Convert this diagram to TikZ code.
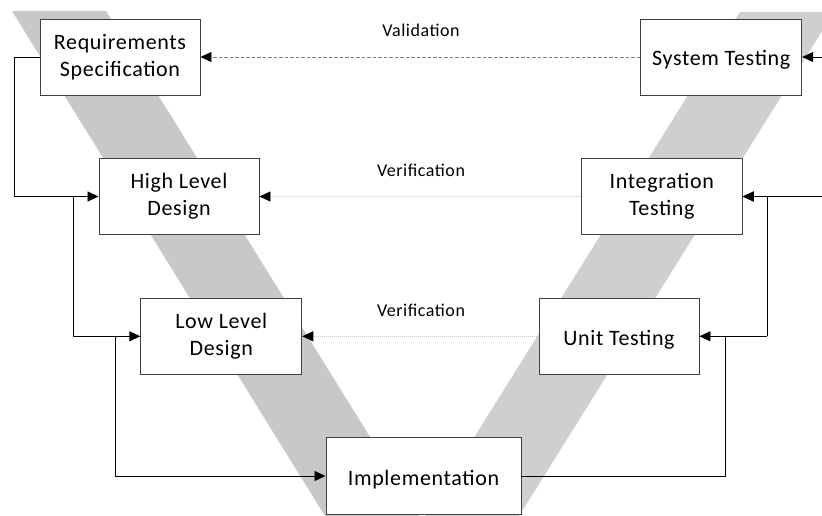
\documentclass[tikz,border=0pt]{standalone}
\usepackage{fontspec}
\setmainfont[LetterSpace=3]{Carlito}
\usetikzlibrary{arrows.meta}
\definecolor{armL}{RGB}{200,200,200}
\definecolor{armR}{RGB}{207,207,207}
\begin{document}
\begin{tikzpicture}[x=1pt,y=-1pt,
  phase/.style={draw=black!75, line width=0.9pt, fill=white, inner sep=0pt,
    align=center, minimum width=160pt, minimum height=76pt,
    font=\fontsize{22}{27}\selectfont},
  oneline/.style={text height=22pt, text depth=4pt},
  link/.style={draw=black, line width=0.8pt},
  flow/.style={link, -{Triangle[length=11pt,width=10pt]}},
  validate/.style={draw=black!50, line width=0.8pt, dash pattern=on 3.5pt off 2pt,
    -{Triangle[length=11pt,width=10pt,color=black]}},
  verify/.style={draw=black!22, line width=0.8pt, dash pattern=on 1pt off 1pt,
    -{Triangle[length=11pt,width=10pt,color=black]}},
  tag/.style={font=\fontsize{18}{20}\selectfont, inner sep=0pt}]
\useasboundingbox (0,0) rectangle (822,516);

% the two arms of the V
\begin{scope}
  \clip (0,0) rectangle (822,516);
  \fill[armL] (12,11) -- (106,11) -- (419,516) -- (325,516) -- cycle;
  \fill[armR] (740,12) -- (834,12) -- (519,516) -- (425,516) -- cycle;
\end{scope}

% phases
\node[phase] (req)   at (120,57)    {Requirements\\Specification};
\node[phase, oneline, minimum width=161pt] (sys) at (721.2,57) {System Testing};
\node[phase] (hld)   at (179,196.5) {High Level\\Design};
\node[phase, minimum width=161pt] (integ) at (661.8,196.5) {Integration\\Testing};
\node[phase, minimum width=161pt] (lld) at (221.3,336.3) {Low Level\\Design};
\node[phase, oneline] (unit)  at (619,336.3) {Unit Testing};
\node[phase, oneline, minimum width=195pt, minimum height=76.6pt] (impl) at (423.5,476) {Implementation};

% junction points of the side connectors
\coordinate (jl0) at (14,57);
\coordinate (jl1) at (73,196.5);
\coordinate (jl2) at (115,336.3);
\coordinate (jr0) at (725,476);
\coordinate (jr1) at (767,336.3);
\coordinate (jr2) at (822,196.5);
\coordinate (jr3) at (822,57);

% descending branch
\draw[flow] (req.west) -- (jl0) |- (hld.west);
\draw[flow] (jl1) |- (lld.west);
\draw[flow] (lld.west -| jl2) |- (impl.west);

% ascending branch
\draw[flow] (impl.east) -| (jr0) |- (unit.east);
\draw[link] (unit.east -| jr0) -- (jr1);
\draw[flow] (jr1) |- (integ.east);
\draw[flow] (jr2) -- (integ.east);
\draw[flow] (jr3) -- (sys.east);

% validation and verification
\draw[validate] (sys.west) -- (req.east);
\draw[verify] (integ.west) -- (hld.east);
\draw[verify] (unit.west) -- (lld.east);

\node[tag] (val)  at (421,30)  {Validation};
\node[tag] (ver1) at (421,170) {Verification};
\node[tag] (ver2) at (421,310) {Verification};
\end{tikzpicture}
\end{document}
